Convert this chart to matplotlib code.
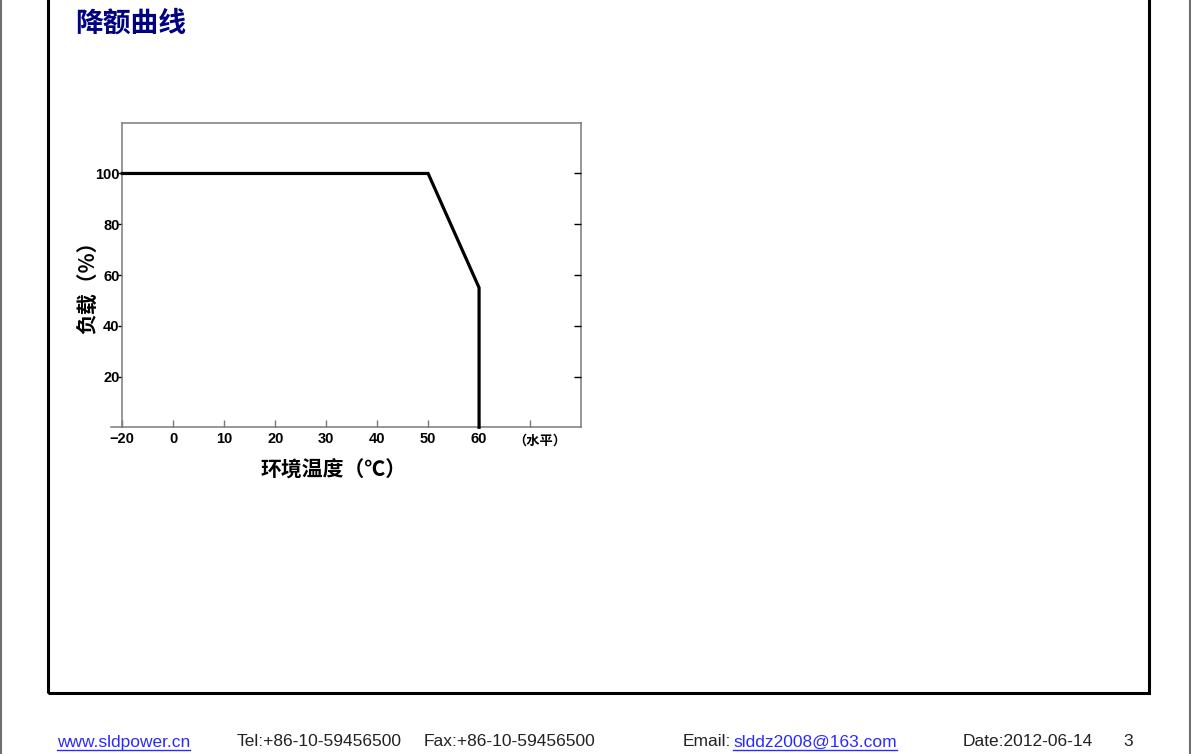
import numpy as np
import matplotlib
matplotlib.use("Agg")
import matplotlib.pyplot as plt
from matplotlib.lines import Line2D
from matplotlib.patches import Rectangle

# derating curve
temps = [-20, 50, 60, 60]
load = [100, 100, 55, 0]
x_ticks = [-20, 0, 10, 20, 30, 40, 50, 60, 70]
x_labels = ["\u221220", "0", "10", "20", "30", "40", "50", "60", ""]
y_ticks = [20, 40, 60, 80, 100]
y_labels = ["20", "40", "60", "80", "100"]

title = "降额曲线"
xlabel = "环境温度（℃）"
ylabel = "负载（%）"
x_unit = "（水平）"

footer = [
    (57, "www.sldpower.cn", True),
    (237, "Tel:+86-10-59456500", False),
    (424, "Fax:+86-10-59456500", False),
    (683, "Email:", False),
    (733, "slddz2008@163.com", True),
    (963, "Date:2012-06-14", False),
    (1123, "3", False),
]

W, H = 1191, 754
CJK = ["Noto Sans CJK SC", "DejaVu Sans"]
NUM = ["Liberation Sans Narrow", "Liberation Sans", "DejaVu Sans"]
GREY = "#7a7a7a"

fig = plt.figure(figsize=(W / 100, H / 100), dpi=100)

# page frame (top edge is off the page) and page edges
fig.add_artist(Rectangle((48 / W, 1 - 693 / H), (1149 - 48) / W, 1.5,
                         transform=fig.transFigure, fill=False,
                         edgecolor="black", lw=2.2, clip_on=False))
for px in (1, 1190):
    fig.add_artist(Line2D([px / W, px / W], [0, 1], transform=fig.transFigure,
                          color="#6e6e6e", lw=1.5))

fig.text(75 / W, 1 - 24 / H, title, color="#000080", fontsize=20,
         fontweight="bold", family=CJK, ha="left", va="center")

ax = fig.add_axes([122.3 / W, 1 - 427.3 / H, (581 - 122.3) / W, (427.3 - 122.7) / H])


# -20..0 is squeezed into one tick step on the original chart
def fwd(x):
    x = np.asarray(x, dtype=float)
    return np.where(x < 0, x / 2, x)


def inv(x):
    x = np.asarray(x, dtype=float)
    return np.where(x < 0, x * 2, x)


ax.set_xscale("function", functions=(fwd, inv))
ax.plot(temps, load, color="black", lw=2.3, solid_joinstyle="miter",
        clip_on=False, zorder=5)
ax.set_xlim(-20, 80)
ax.set_ylim(0, 120)

ax.set_xticks(x_ticks)
ax.set_xticklabels(x_labels)
ax.set_yticks(y_ticks)
ax.set_yticklabels(y_labels)
ax.xaxis.set_minor_locator(matplotlib.ticker.NullLocator())

for s in ax.spines.values():
    s.set_color(GREY)
    s.set_linewidth(1.1)

ax.tick_params(axis="x", direction="in", length=5, width=1, color=GREY, pad=3.5)
ax.tick_params(axis="y", direction="out", length=3, width=1, color="black", pad=-1)
for lab in ax.get_xticklabels() + ax.get_yticklabels():
    lab.set_family(NUM)
    lab.set_fontweight("bold")
    lab.set_fontsize(10.5)

# right side ticks point inward
tw = ax.twinx()
tw.set_ylim(ax.get_ylim())
tw.set_yticks(y_ticks)
tw.tick_params(axis="y", direction="in", length=5, width=1, color="black",
               labelright=False)
for s in tw.spines.values():
    s.set_visible(False)

# bottom axis line runs a little past the left spine
ax.add_line(Line2D([-0.025, 0], [0, 0], transform=ax.transAxes, color=GREY,
                   lw=1.1, clip_on=False))

fig.text(540 / W, 1 - 441 / H, x_unit, fontsize=9.5, fontweight="bold",
         family=CJK, ha="center", va="center")

fig.text(334 / W, 1 - 470 / H, xlabel, fontsize=15, fontweight="bold",
         family=CJK, ha="center", va="center")
fig.text(88 / W, 1 - 282 / H, ylabel, fontsize=15, fontweight="bold",
         family=CJK, ha="center", va="center", rotation=90)

# footer
fig.canvas.draw()
rend = fig.canvas.get_renderer()
for px, txt, link in footer:
    t = fig.text(px / W, 1 - 742 / H, txt, fontsize=12.5, family=NUM,
                 color="#2a2aff" if link else "#222222",
                 ha="left", va="center")
    if link:
        bb = t.get_window_extent(renderer=rend)
        fig.add_artist(Line2D([bb.x0 / W, bb.x1 / W], [4 / H, 4 / H],
                              transform=fig.transFigure, color="#2a2aff", lw=1))

fig.savefig("out.png", dpi=100)
